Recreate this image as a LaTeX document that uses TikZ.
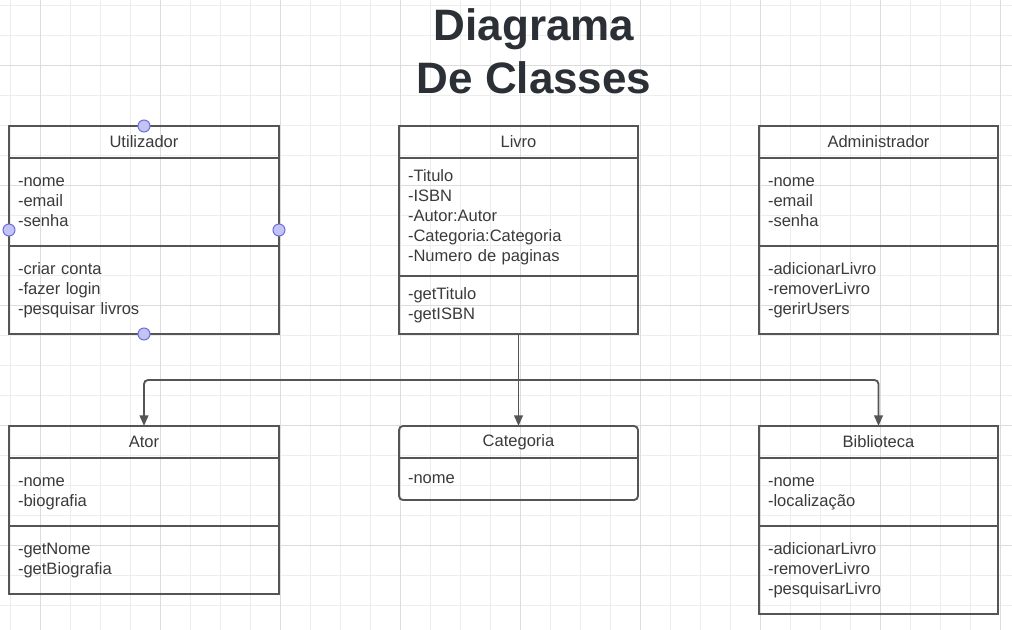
\documentclass[tikz,border=0pt]{standalone}
\usepackage{fontspec}
\setmainfont{Liberation Sans}
\usepackage{tikz}
\usetikzlibrary{arrows.meta,positioning,calc}

\definecolor{linec}{HTML}{555555}
\definecolor{txtc}{HTML}{3A3A3A}
\definecolor{titlec}{HTML}{2B2F36}
\definecolor{gridlo}{HTML}{EDEDED}
\definecolor{gridhi}{HTML}{DCDCDC}
\definecolor{dotfill}{HTML}{C3C4F5}
\definecolor{dotline}{HTML}{6B6EDB}
\newcommand{\boxfont}{\fontsize{12.4pt}{15pt}\selectfont}

\begin{document}
\begin{tikzpicture}
% STYLES
\tikzset{
    hd/.style={draw=linec, line width=1.4pt, minimum height=24pt, inner sep=0pt,
    outer sep=0pt, text=txtc, font=\boxfont},
    sec/.style={draw=linec, line width=1.4pt, inner xsep=6.75pt, inner ysep=10.5pt,
    outer sep=0pt, align=left, text=txtc, font=\boxfont,
    execute at begin node=\strut, execute at end node=\strut},
    widehd/.style={hd, minimum width=202.5pt},
    widesec/.style={sec, text width=189pt},
    narrowhd/.style={hd, minimum width=179.25pt},
    narrowsec/.style={sec, text width=165.75pt},
    titletxt/.style={font=\fontsize{33pt}{40pt}\selectfont\bfseries, text=titlec, inner sep=0pt},
    conn/.style={draw=linec, line width=1.4pt, rounded corners=3pt},
    tip/.style={-{Triangle[length=8pt,width=6.5pt]}},
    handle/.style={circle, fill=dotfill, draw=dotline, line width=0.75pt, minimum size=9pt, inner sep=0pt}
}
\useasboundingbox (0,0) rectangle (759pt,-471.75pt);

% grid
\begin{scope}
\clip (0,0) rectangle (759pt,-471.75pt);
\fill[white] (0,0) rectangle (759pt,-471.75pt);
\draw[gridlo, line width=0.75pt, step=22.5pt, shift={(7.5pt,-3.75pt)}] (-22.5pt,-495pt) grid (765pt,22.5pt);
\draw[gridhi, line width=0.75pt, step=90pt, shift={(30pt,-48.75pt)}] (-90pt,-450pt) grid (765pt,90pt);
\end{scope}

% title
\node[titletxt, anchor=base] (T1) at (400.5pt,-30pt) {Diagrama};
\node[titletxt, below=39.75pt of T1.base, anchor=base] (T2) {De Classes};

% top row
\node[widehd, anchor=north west] (Uh) at (6.75pt,-94.5pt) {Utilizador};
\node[widesec, below=0pt of Uh] (Ua) {-nome\\-email\\-senha};
\node[widesec, below=0pt of Ua] (Um) {-criar conta\\-fazer login\\-pesquisar livros};

\node[narrowhd, right=90pt of Uh] (Lh) {Livro};
\node[narrowsec, inner ysep=6.75pt, below=0pt of Lh] (La) {-Titulo\\-ISBN\\-Autor:Autor\\-Categoria:Categoria\\-Numero de paginas};
\node[narrowsec, inner ysep=6.75pt, below=0pt of La] (Lm) {-getTitulo\\-getISBN};

\node[narrowhd, right=90.75pt of Lh] (Dh) {Administrador};
\node[narrowsec, below=0pt of Dh] (Da) {-nome\\-email\\-senha};
\node[narrowsec, below=0pt of Da] (Dm) {-adicionarLivro\\-removerLivro\\-gerirUsers};

% bottom row
\node[widehd, below=69pt of Um] (Ah) {Ator};
\node[widesec, below=0pt of Ah] (Aa) {-nome\\-biografia};
\node[widesec, below=0pt of Aa] (Am) {-getNome\\-getBiografia};

\node[narrowhd, draw=none, below=69pt of Lm] (Ch) {Categoria};
\node[narrowsec, draw=none, inner ysep=8.25pt, below=0pt of Ch] (Ca) {-nome};
\draw[linec, line width=1.4pt, rounded corners=3pt] (Ch.north west) rectangle (Ca.south east);
\draw[linec, line width=1.4pt] (Ch.south west) -- (Ch.south east);

\node[narrowhd, below=69pt of Dm] (Bh) {Biblioteca};
\node[narrowsec, below=0pt of Bh] (Ba) {-nome\\-localização};
\node[narrowsec, below=0pt of Ba] (Bm) {-adicionarLivro\\-removerLivro\\-pesquisarLivro};

% Draw the links between
\coordinate[below=34.5pt of Lm] (J);
\draw[conn] (Lm.south) -- (J);
\draw[conn, tip] (J) -| (Ah.north);
\draw[conn, tip] (J) -- (Ch.north);
\draw[conn, tip] (J) -| (Bh.north);

% selection handles
\node[handle] (hN) at (Uh.north) {};
\node[handle] (hS) at (Um.south) {};
\node[handle] (hW) at ($(Uh.north west)!0.5!(Um.south west)$) {};
\node[handle] (hE) at ($(Uh.north east)!0.5!(Um.south east)$) {};

\end{tikzpicture}
\end{document}
